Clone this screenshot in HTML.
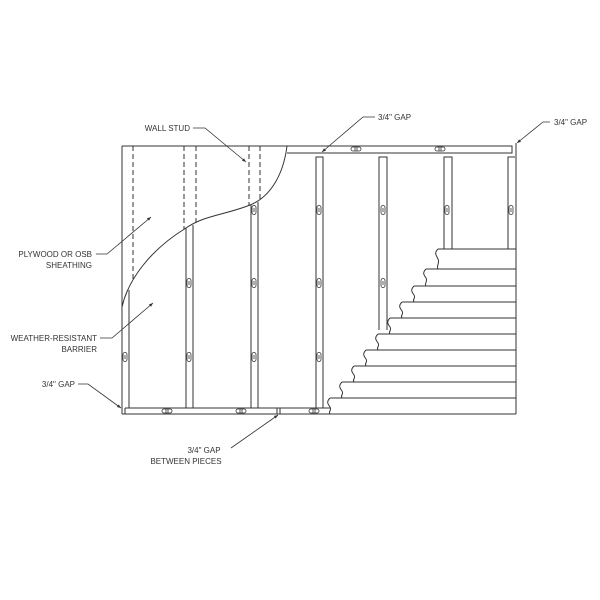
<!DOCTYPE html>
<html><head><style>body{margin:0;background:#fff}svg{display:block}</style></head><body>
<svg width="600" height="600" viewBox="0 0 600 600" xmlns="http://www.w3.org/2000/svg" font-family="Liberation Sans, sans-serif" font-size="8" fill="none" stroke="#333" stroke-width="1">
<defs><marker id="a" markerWidth="6" markerHeight="6" refX="5" refY="3" orient="auto"><path d="M0,1 L5,3 L0,5 z" fill="#333" stroke="none"/></marker>
<g id="vo"><rect x="-2" y="-4.5" width="4" height="9" rx="2"/><line x1="0" y1="-2" x2="0" y2="2"/></g>
<g id="ho"><rect x="-5" y="-2" width="10" height="4" rx="2"/><line x1="-1" y1="-2" x2="-1" y2="2"/><line x1="1" y1="-2" x2="1" y2="2"/></g>
</defs>
<!-- outline -->
<line x1="122" y1="146" x2="122" y2="414"/>
<line x1="122" y1="146" x2="287" y2="146"/>
<line x1="122" y1="414" x2="516" y2="414"/>
<line x1="516" y1="143" x2="516" y2="414"/>
<!-- top plate -->
<path d="M287,146 H512 V153 H287"/>
<!-- bottom plate -->
<path d="M125,408 H330 M125,408 V414 M277,408 V414 M280,408 V414"/>
<!-- curve -->
<path d="M287,146 C283,178 268,198 250,205 C225,215 205,215 186,228 C150,250 128,280 122,307"/>
<!-- dashed -->
<g stroke-dasharray="5,3">
<line x1="133" y1="146" x2="133" y2="282"/>
<line x1="184" y1="146" x2="184" y2="229"/>
<line x1="196" y1="146" x2="196" y2="224"/>
<line x1="249" y1="146" x2="249" y2="206"/>
<line x1="260" y1="146" x2="260" y2="201"/>
</g>
<!-- studs left -->
<path d="M129,290 V408"/>
<path d="M186,228 V408 M193,225 V408"/>
<path d="M251,205 V408 M258,202 V408"/>
<!-- studs right -->
<rect x="316" y="157" width="7" height="251"/>
<path d="M379,330 V157 H387 V330"/>
<path d="M444,249 V157 H452 V249"/>
<path d="M508,249 V157 H515"/>
<!-- siding -->
<g>
<path d="M438,249 H516 M426,269 H516 M414,286 H516 M402,302 H516 M390,318 H516 M378,334 H516 M366,350 H516 M354,366 H516 M342,382 H516 M330,398 H516"/>
<path d="M438,249 c-4,4 -2,6 0,10 c2,4 -2,7 0,10 M426,269 c-4,4 -2,6 0,9 c2,3 -2,6 0,8 M414,286 c-4,4 -2,6 0,9 c2,3 -2,5 0,7 M402,302 c-4,4 -2,6 0,9 c2,3 -2,5 0,7 M390,318 c-4,4 -2,6 0,9 c2,3 -2,5 0,7 M378,334 c-4,4 -2,6 0,9 c2,3 -2,5 0,7 M366,350 c-4,4 -2,6 0,9 c2,3 -2,5 0,7 M354,366 c-4,4 -2,6 0,9 c2,3 -2,5 0,7 M342,382 c-4,4 -2,6 0,9 c2,3 -2,5 0,7 M330,398 c-4,4 -2,6 0,9 c2,3 -2,5 0,7"/>
<path d="M438,269 H426 M426,286 H414 M414,302 H402 M402,318 H390 M390,334 H378 M378,350 H366 M366,366 H354 M354,382 H342 M342,398 H330"/>
</g>
<!-- nail slots -->
<g stroke-width="0.8">
<use href="#vo" x="125" y="357"/>
<use href="#vo" x="189" y="283"/><use href="#vo" x="189" y="357"/>
<use href="#vo" x="254" y="210"/><use href="#vo" x="254" y="283"/><use href="#vo" x="254" y="357"/>
<use href="#vo" x="319" y="210"/><use href="#vo" x="319" y="283"/><use href="#vo" x="319" y="357"/>
<use href="#vo" x="383" y="210"/><use href="#vo" x="383" y="283"/>
<use href="#vo" x="447" y="210"/><use href="#vo" x="511" y="210"/>
<use href="#ho" x="167" y="411"/><use href="#ho" x="241" y="411"/><use href="#ho" x="314" y="411"/>
<use href="#ho" x="356" y="149"/><use href="#ho" x="440" y="149"/>
</g>
<!-- leaders -->
<g stroke-width="0.8" marker-end="url(#a)">
<path d="M193,128 H205 L246,162"/>
<path d="M96,254 H107 L151,217"/>
<path d="M100,338 H112 L153,303"/>
<path d="M78,384 H88 L121,408"/>
<path d="M375,117 H363 L322,152"/>
<path d="M550,122 H543 L517,143"/>
<path d="M231,448 L278,415"/>
</g>
<g fill="#333" stroke="none">
<text x="190" y="131" text-anchor="end">WALL STUD</text>
<text x="92" y="257" text-anchor="end">PLYWOOD OR OSB</text>
<text x="92" y="268" text-anchor="end">SHEATHING</text>
<text x="97" y="341" text-anchor="end">WEATHER-RESISTANT</text>
<text x="97" y="352" text-anchor="end">BARRIER</text>
<text x="75" y="387" text-anchor="end">3/4" GAP</text>
<text x="378" y="120">3/4" GAP</text>
<text x="554" y="125">3/4" GAP</text>
<text x="204" y="453" text-anchor="middle">3/4" GAP</text>
<text x="186" y="464" text-anchor="middle">BETWEEN PIECES</text>
</g>
</svg>
</body></html>
